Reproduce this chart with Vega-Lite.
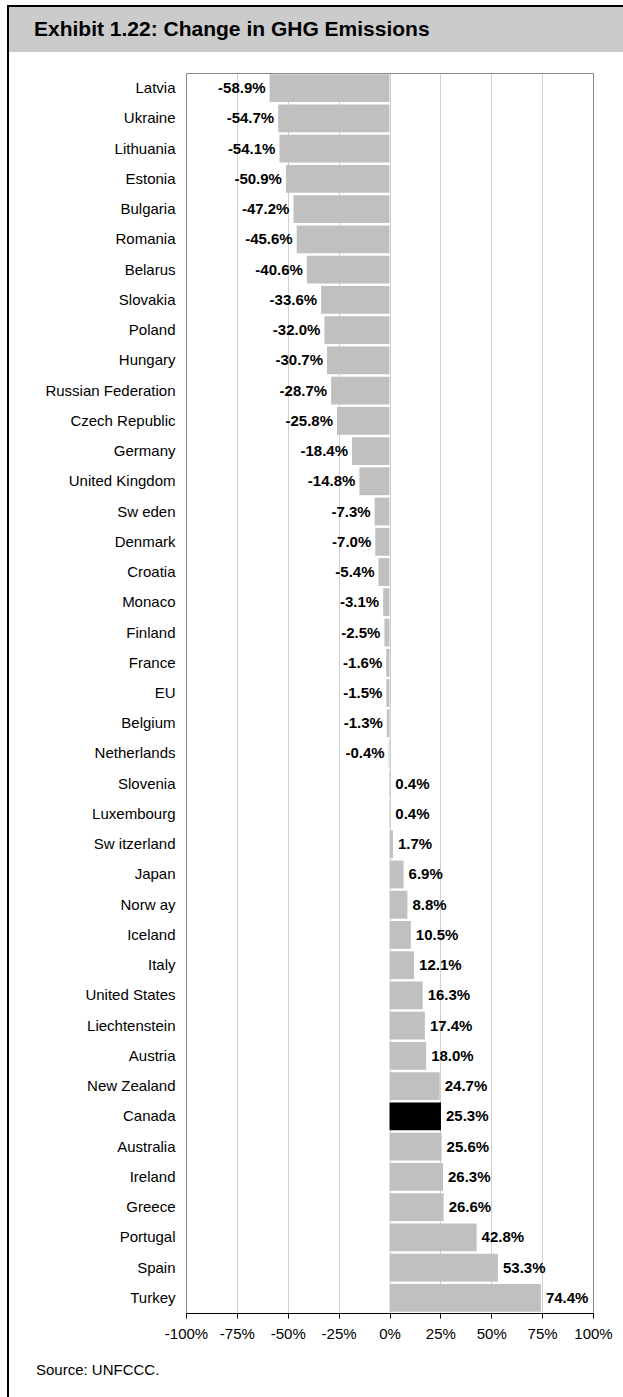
{
  "$schema": "https://vega.github.io/schema/vega-lite/v6.json",
  "background": "white",
  "padding": {"left": 7, "top": 5, "right": 0, "bottom": 0},
  "config": {"font": "Liberation Sans", "concat": {"spacing": 0}},
  "datasets": {
    "ghg": [
      {"country": "Latvia", "v": -58.9},
      {"country": "Ukraine", "v": -54.7},
      {"country": "Lithuania", "v": -54.1},
      {"country": "Estonia", "v": -50.9},
      {"country": "Bulgaria", "v": -47.2},
      {"country": "Romania", "v": -45.6},
      {"country": "Belarus", "v": -40.6},
      {"country": "Slovakia", "v": -33.6},
      {"country": "Poland", "v": -32.0},
      {"country": "Hungary", "v": -30.7},
      {"country": "Russian Federation", "v": -28.7},
      {"country": "Czech Republic", "v": -25.8},
      {"country": "Germany", "v": -18.4},
      {"country": "United Kingdom", "v": -14.8},
      {"country": "Sw eden", "v": -7.3},
      {"country": "Denmark", "v": -7.0},
      {"country": "Croatia", "v": -5.4},
      {"country": "Monaco", "v": -3.1},
      {"country": "Finland", "v": -2.5},
      {"country": "France", "v": -1.6},
      {"country": "EU", "v": -1.5},
      {"country": "Belgium", "v": -1.3},
      {"country": "Netherlands", "v": -0.4},
      {"country": "Slovenia", "v": 0.4},
      {"country": "Luxembourg", "v": 0.4},
      {"country": "Sw itzerland", "v": 1.7},
      {"country": "Japan", "v": 6.9},
      {"country": "Norw ay", "v": 8.8},
      {"country": "Iceland", "v": 10.5},
      {"country": "Italy", "v": 12.1},
      {"country": "United States", "v": 16.3},
      {"country": "Liechtenstein", "v": 17.4},
      {"country": "Austria", "v": 18.0},
      {"country": "New Zealand", "v": 24.7},
      {"country": "Canada", "v": 25.3},
      {"country": "Australia", "v": 25.6},
      {"country": "Ireland", "v": 26.3},
      {"country": "Greece", "v": 26.6},
      {"country": "Portugal", "v": 42.8},
      {"country": "Spain", "v": 53.3},
      {"country": "Turkey", "v": 74.4}
    ]
  },
  "hconcat": [
    {
      "data": {"values": []},
      "width": 2,
      "height": 1392,
      "view": {"fill": "black", "stroke": null},
      "mark": "rect",
      "encoding": {}
    },
    {
      "spacing": 21,
      "vconcat": [
        {
          "spacing": 0,
          "vconcat": [
            {
              "data": {"values": []},
              "width": 614,
              "height": 2,
              "view": {"fill": "black", "stroke": null},
              "mark": "rect",
              "encoding": {}
            },
            {
              "data": {"values": [{"t": "Exhibit 1.22: Change in GHG Emissions"}]},
              "width": 614,
              "height": 45,
              "view": {"fill": "#cbcbcb", "stroke": null},
              "mark": {"type": "text", "align": "left", "baseline": "middle", "fontSize": 21, "fontWeight": "bold", "color": "black"},
              "encoding": {
                "text": {"field": "t"},
                "x": {"value": 25},
                "y": {"value": 23}
              }
            }
          ]
        },
        {
          "data": {"name": "ghg"},
          "width": 584,
          "height": 1240,
          "view": {"stroke": null, "fill": null},
          "title": {
            "text": "Source: UNFCCC.",
            "orient": "bottom",
            "anchor": "start",
            "frame": "bounds",
            "dx": 27,
            "offset": 22,
            "baseline": "top",
            "fontSize": 15,
            "fontWeight": "normal",
            "color": "black"
          },
          "transform": [
            {"calculate": "replace(format(datum.v, '.1f'), '\u2212', '-') + '%'", "as": "lbl"}
          ],
          "resolve": {"axis": {"x": "independent"}},
          "encoding": {
            "y": {
              "field": "country",
              "type": "nominal",
              "sort": null,
              "scale": {"paddingInner": 0.08, "paddingOuter": 0.04},
              "axis": {
                "title": null,
                "ticks": false,
                "domain": false,
                "offset": -177,
                "labelFontSize": 15,
                "labelColor": "black",
                "labelPadding": 11
              }
            }
          },
          "layer": [
            {
              "mark": {"type": "bar"},
              "encoding": {
                "x": {
                  "field": "v",
                  "type": "quantitative",
                  "scale": {"domain": [-100, 100], "range": [177, 584], "nice": false},
                  "axis": {
                    "title": null,
                    "orient": "bottom",
                    "values": [-100, -75, -50, -25, 0, 25, 50, 75, 100],
                    "labelExpr": "datum.value + '%'",
                    "grid": true,
                    "gridColor": {"condition": {"test": "abs(datum.value) === 100", "value": "#888888"}, "value": "#d0d0d0"},
                    "domainColor": "black",
                    "tickColor": "black",
                    "tickSize": 5,
                    "labelFontSize": 15,
                    "labelColor": "black",
                    "labelPadding": 8,
                    "labelFlush": false
                  }
                },
                "color": {
                  "condition": {"test": "datum.country === 'Canada'", "value": "black"},
                  "value": "#c0c0c0"
                }
              }
            },
            {
              "transform": [{"filter": "datum.v < 0"}],
              "mark": {"type": "text", "align": "right", "baseline": "middle", "dx": -4, "fontSize": 15, "fontWeight": "bold", "color": "black"},
              "encoding": {
                "x": {
                  "field": "v",
                  "type": "quantitative",
                  "axis": {
                    "orient": "top",
                    "title": null,
                    "labels": false,
                    "ticks": false,
                    "grid": false,
                    "domainColor": "#888888"
                  }
                },
                "text": {"field": "lbl"}
              }
            },
            {
              "transform": [{"filter": "datum.v >= 0"}],
              "mark": {"type": "text", "align": "left", "baseline": "middle", "dx": 5, "fontSize": 15, "fontWeight": "bold", "color": "black"},
              "encoding": {
                "x": {"field": "v", "type": "quantitative", "axis": null},
                "text": {"field": "lbl"}
              }
            }
          ]
        }
      ]
    }
  ]
}
